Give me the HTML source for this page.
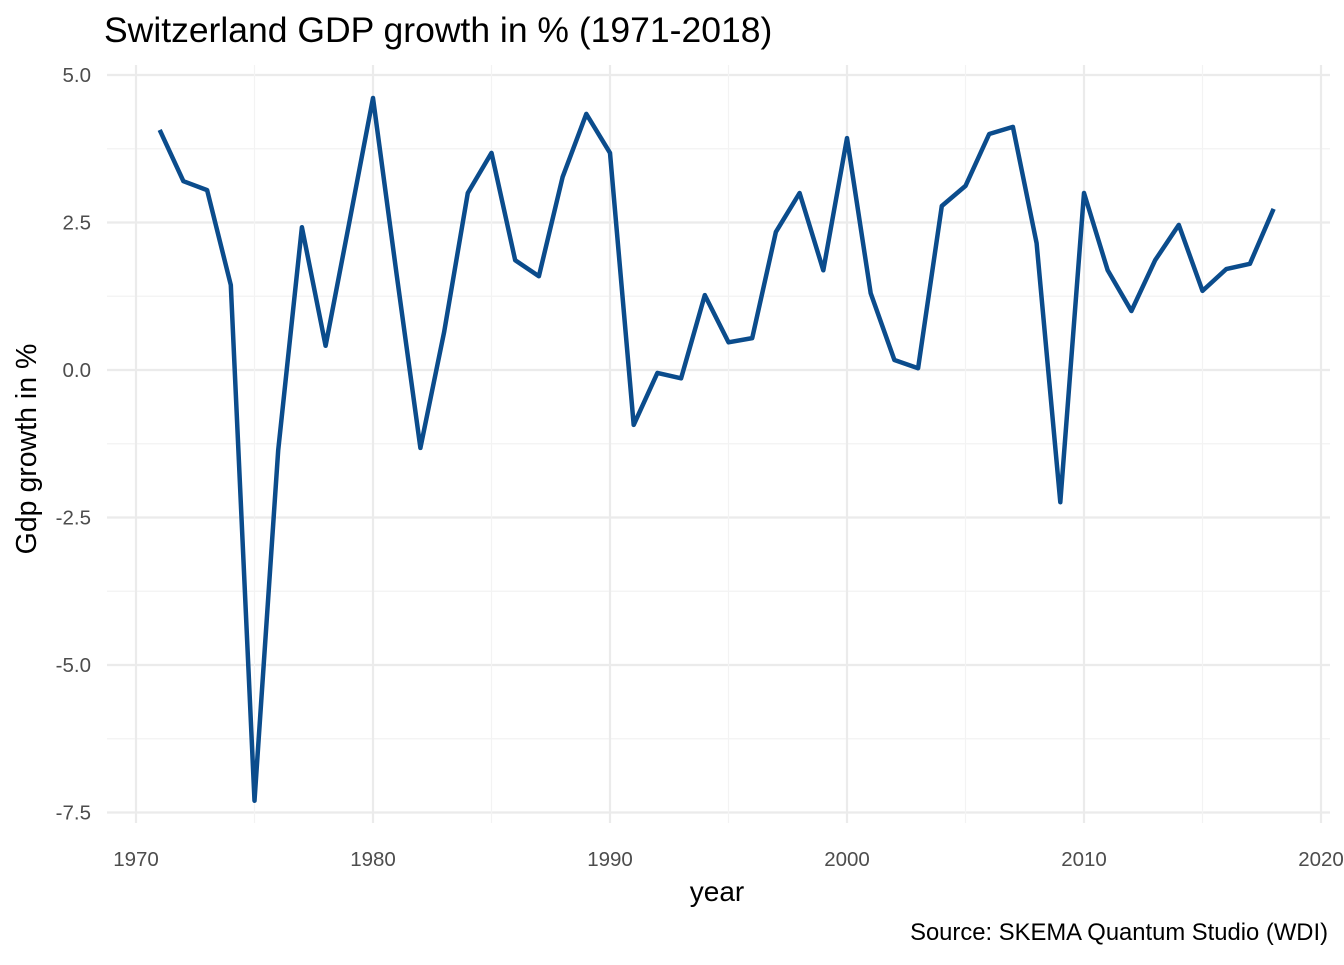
<!DOCTYPE html>
<html><head><meta charset="utf-8"><style>
body{margin:0;background:#fff;font-family:"Liberation Sans",sans-serif}
</style></head><body>
<svg id="chart" width="1344" height="960" xmlns="http://www.w3.org/2000/svg" font-family="Liberation Sans, sans-serif">
<text x="104" y="42" font-size="35.5" fill="#000">Switzerland GDP growth in % (1971-2018)</text>
<g id="grid"></g>
<g id="ticks"></g>
<text x="717" y="901" font-size="28" text-anchor="middle">year</text>
<text transform="translate(36,449) rotate(-90)" font-size="28.5" text-anchor="middle">Gdp growth in %</text>
<text x="1328" y="940" font-size="23.8" text-anchor="end">Source: SKEMA Quantum Studio (WDI)</text>
</svg>
<script>
const years=[1971,1972,1973,1974,1975,1976,1977,1978,1979,1980,1981,1982,1983,1984,1985,1986,1987,1988,1989,1990,1991,1992,1993,1994,1995,1996,1997,1998,1999,2000,2001,2002,2003,2004,2005,2006,2007,2008,2009,2010,2011,2012,2013,2014,2015,2016,2017,2018];
const growth=[4.07,3.2,3.05,1.44,-7.3,-1.36,2.42,0.41,2.5,4.61,1.61,-1.32,0.64,3.0,3.68,1.86,1.59,3.27,4.34,3.68,-0.93,-0.05,-0.14,1.27,0.47,0.54,2.34,3.0,1.69,3.93,1.3,0.17,0.03,2.78,3.12,4.0,4.12,2.15,-2.24,3.0,1.69,1.0,1.86,2.46,1.34,1.71,1.8,2.73];
const xTicks=[1970,1980,1990,2000,2010,2020];
const yTicks=[5.0,2.5,0.0,-2.5,-5.0,-7.5];
const NS="http://www.w3.org/2000/svg";
const X=v=>136+(v-1970)*23.7;
const Y=v=>370-v*59;
const grid=document.getElementById('grid'),ticks=document.getElementById('ticks');
function mk(tag,attrs,parent){const e=document.createElementNS(NS,tag);for(const k in attrs)e.setAttribute(k,attrs[k]);parent.appendChild(e);return e;}
const L=107,R=1330,T=65,B=823;
for(let i=0;i<yTicks.length;i++){
  const v=yTicks[i];
  const g=mk('line',{x1:L,x2:R,y1:Y(v),y2:Y(v),stroke:'#ebebeb','stroke-width':2.2},grid);
  
  
  if(i<yTicks.length-1){
    const m=mk('line',{x1:L,x2:R,y1:Y(v-1.25),y2:Y(v-1.25),stroke:'#f3f3f3','stroke-width':1.2},grid);
    
    
  }
  const t=mk('text',{x:91,y:Y(v)+7,'font-size':20.5,'text-anchor':'end',fill:'#4d4d4d'},ticks);
  t.textContent=v.toFixed(1);
  
  
}
for(let i=0;i<xTicks.length;i++){
  const v=xTicks[i];
  const g=mk('line',{x1:X(v),x2:X(v),y1:T,y2:B,stroke:'#ebebeb','stroke-width':2.2},grid);
  
  
  if(i<xTicks.length-1){
    const m=mk('line',{x1:X(v+5),x2:X(v+5),y1:T,y2:B,stroke:'#f3f3f3','stroke-width':1.2},grid);
    
    
  }
  const t=mk('text',{x:X(v),y:866,'font-size':20.5,'text-anchor':'middle',fill:'#4d4d4d'},ticks);
  t.textContent=v;
  
  
}
const pts=years.map((y,i)=>X(y).toFixed(1)+','+Y(growth[i]).toFixed(1)).join(' ');
const line=mk('polyline',{points:pts,fill:'none',stroke:'#0b4c8c','stroke-width':4.5,'stroke-linejoin':'round'},document.getElementById('chart'));


</script>
</body></html>
